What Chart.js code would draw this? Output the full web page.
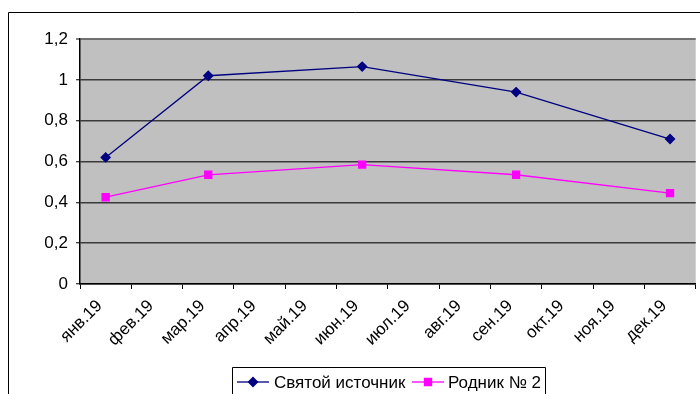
<!DOCTYPE html>
<html>
<head>
<meta charset="utf-8">
<script src="https://cdn.jsdelivr.net/npm/chart.js@4.4.1/dist/chart.umd.min.js"></script>
<style>
  html, body { margin: 0; padding: 0; background: #fff; overflow: hidden; }
  #wrap { width: 700px; height: 394px; overflow: hidden; position: relative; }
  canvas { display: block; }
</style>
</head>
<body>
<div id="wrap"><canvas id="c" width="702" height="394"></canvas></div>
<script>
// Month categories of 2019
const months = ['янв.19', 'фев.19', 'мар.19', 'апр.19', 'май.19', 'июн.19',
                'июл.19', 'авг.19', 'сен.19', 'окт.19', 'ноя.19', 'дек.19'];

// Measured values (samples taken in Jan, Mar, Jun, Sep, Dec)
const svyatoyIstochnik = [0.62, null, 1.02, null, null, 1.065, null, null, 0.94, null, null, 0.71];
const rodnik2          = [0.425, null, 0.535, null, null, 0.585, null, null, 0.535, null, null, 0.445];

const seriesNames = ['Святой источник', 'Родник № 2'];
const yTicks = { min: 0, max: 1.2, step: 0.2 };

const FONT = "'Liberation Sans', Arial, sans-serif";
const NAVY = '#000080';
const PINK = '#FF00FF';

// Gray plot background, outer frame and the boxed legend
const decor = {
  id: 'decor',
  beforeDraw(chart) {
    const { ctx, chartArea: a } = chart;
    ctx.save();
    ctx.fillStyle = '#c0c0c0';
    ctx.fillRect(a.left, a.top, a.right - a.left, a.bottom - a.top);
    ctx.restore();
  },
  afterDraw(chart) {
    const { ctx } = chart;
    ctx.save();
    // outer chart frame
    ctx.strokeStyle = '#000';
    ctx.lineWidth = 1;
    ctx.beginPath();
    ctx.moveTo(8.5, 400);
    ctx.lineTo(8.5, 12.5);
    ctx.lineTo(705, 12.5);
    ctx.stroke();

    // legend box
    ctx.beginPath();
    ctx.rect(232.5, 367.5, 313, 40);
    ctx.stroke();

    ctx.font = '17px ' + FONT;
    ctx.textBaseline = 'middle';
    ctx.textAlign = 'left';
    const yL = 382;
    const items = [
      { x0: 237, x1: 269, tx: 274, ds: chart.data.datasets[0] },
      { x0: 412, x1: 444, tx: 448, ds: chart.data.datasets[1] }
    ];
    items.forEach(it => {
      ctx.strokeStyle = it.ds.borderColor;
      ctx.lineWidth = 1.3;
      ctx.beginPath();
      ctx.moveTo(it.x0, yL);
      ctx.lineTo(it.x1, yL);
      ctx.stroke();
      ctx.fillStyle = it.ds.pointBackgroundColor;
      ctx.strokeStyle = it.ds.pointBorderColor;
      Chart.helpers.drawPoint(ctx, {
        pointStyle: it.ds.pointStyle,
        radius: it.ds.pointRadius,
        borderWidth: 1,
        rotation: 0
      }, (it.x0 + it.x1) / 2, yL);
      ctx.fillStyle = '#000';
      ctx.fillText(it.ds.label, it.tx, yL + 1);
    });
    ctx.restore();
  }
};

new Chart(document.getElementById('c'), {
  type: 'line',
  data: {
    labels: months,
    datasets: [
      {
        label: seriesNames[0],
        data: svyatoyIstochnik,
        borderColor: NAVY,
        backgroundColor: NAVY,
        pointBackgroundColor: NAVY,
        pointBorderColor: NAVY,
        pointStyle: 'rectRot',
        pointRadius: 4.5,
        borderWidth: 1.3,
        spanGaps: true,
        tension: 0
      },
      {
        label: seriesNames[1],
        data: rodnik2,
        borderColor: PINK,
        backgroundColor: PINK,
        pointBackgroundColor: PINK,
        pointBorderColor: PINK,
        pointStyle: 'rect',
        pointRadius: 5,
        borderWidth: 1.3,
        spanGaps: true,
        tension: 0
      }
    ]
  },
  options: {
    responsive: false,
    animation: false,
    devicePixelRatio: 1,
    layout: { padding: { top: 39, right: 0, bottom: 0, left: 0 } },
    plugins: {
      legend: { display: false },
      tooltip: { enabled: false },
      title: { display: false }
    },
    scales: {
      x: {
        offset: true,
        grid: {
          offset: true,
          drawOnChartArea: false,
          drawTicks: true,
          tickLength: 5,
          tickColor: '#000',
          lineWidth: 1
        },
        border: { color: '#000', width: 1.5 },
        ticks: {
          autoSkip: false,
          minRotation: 45,
          maxRotation: 45,
          color: '#000',
          font: { family: FONT, size: 17 },
          padding: 7,
          labelOffset: -6
        },
        afterFit(scale) { scale.height = 110; }
      },
      y: {
        min: yTicks.min,
        max: yTicks.max,
        grid: {
          color: ctx => (ctx.tick && Math.abs(ctx.tick.value - yTicks.max) < 1e-6) ? '#707070' : '#3a3a3a',
          lineWidth: ctx => (ctx.tick && Math.abs(ctx.tick.value - yTicks.max) < 1e-6) ? 2 : 1.5,
          tickLength: 4,
          tickColor: '#000',
          tickWidth: 1
        },
        border: { color: '#000', width: 1.5 },
        ticks: {
          stepSize: yTicks.step,
          color: '#000',
          padding: 8,
          font: { family: FONT, size: 17 },
          callback: v => String(Math.round(v * 10) / 10).replace('.', ',')
        },
        afterFit(scale) { scale.width = 80; }
      }
    }
  },
  plugins: [decor]
});
</script>
</body>
</html>
